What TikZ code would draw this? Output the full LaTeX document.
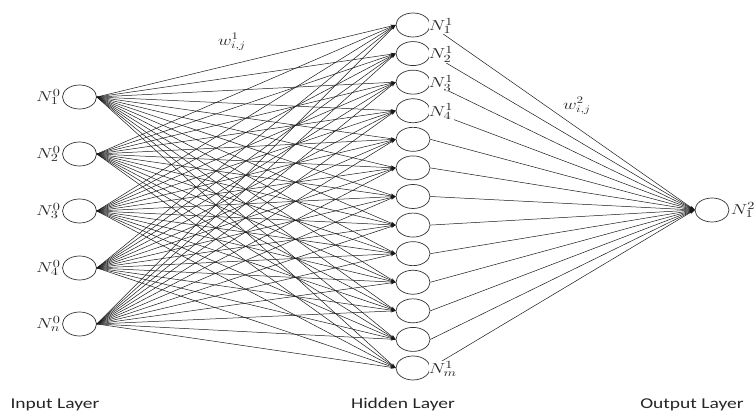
\documentclass[tikz,border=0pt]{standalone}
\usepackage{fontspec}
\newfontfamily\layerfont{Carlito}
\usetikzlibrary{arrows.meta,shapes.geometric}
\newcommand{\wide}[1]{\scalebox{1.3}[1]{#1}}
\begin{document}
\begin{tikzpicture}[x=1pt,y=1pt,
  neuron/.style={draw=black!80, ellipse, minimum width=34pt, minimum height=24pt, inner sep=0pt, line width=0.7pt},
  conn/.style={line width=0.5pt, draw=black!90, -{Stealth[length=5pt,width=3pt]}},
  nlab/.style={font=\fontsize{15}{15}\selectfont, inner sep=0.3pt, text=black!85},
  wlab/.style={font=\fontsize{14}{14}\selectfont, inner sep=0.5pt, text=black!85},
  laylab/.style={font=\layerfont\fontsize{15}{15}\selectfont, text=black!85, inner sep=0pt}]
\useasboundingbox (0,0) rectangle (756,412);
% input layer
\foreach \i/\y in {1/97,2/154,3/211,4/268,5/324}
  \node[neuron] (in\i) at (79.5,412-\y) {};
% hidden layer
\foreach \k in {1,...,13}
  \node[neuron] (h\k) at (413,{412-25-(\k-1)*28.583}) {};
% output layer
\node[neuron] (out) at (712,202) {};
% connections
\foreach \i in {1,...,5}
  \foreach \k in {1,...,13}
    \draw[conn] (in\i.east) -- (h\k.west);
\foreach \k in {1,...,13}
  \draw[conn] (h\k.east) -- (out.west);
% input labels
\node[nlab, anchor=east] (l1) at ([xshift=-1pt]in1.west) {\wide{$N_1^0$}};
\node[nlab, anchor=east] (l2) at ([xshift=-1pt]in2.west) {\wide{$N_2^0$}};
\node[nlab, anchor=east] (l3) at ([xshift=-1pt]in3.west) {\wide{$N_3^0$}};
\node[nlab, anchor=east] (l4) at ([xshift=-1pt]in4.west) {\wide{$N_4^0$}};
\node[nlab, anchor=east] (l5) at ([xshift=-1pt]in5.west) {\wide{$N_n^0$}};
% hidden labels
\node[nlab, anchor=west, fill=white] (m1) at ([xshift=-2pt,yshift=-1pt]h1.east) {\wide{$N_1^1$}};
\node[nlab, anchor=west, fill=white] (m2) at ([xshift=-2pt,yshift=-1pt]h2.east) {\wide{$N_2^1$}};
\node[nlab, anchor=west, fill=white] (m3) at ([xshift=-2pt,yshift=-1pt]h3.east) {\wide{$N_3^1$}};
\node[nlab, anchor=west, fill=white] (m4) at ([xshift=-2pt,yshift=-1pt]h4.east) {\wide{$N_4^1$}};
\node[nlab, anchor=west, fill=white] (m13) at ([xshift=-2pt,yshift=-1pt]h13.east) {\wide{$N_m^1$}};
% output label
\node[nlab, anchor=west] (o1) at ([xshift=1pt]out.east) {\wide{$N_1^2$}};
% weight labels
\node[wlab] (w1) at (232,370) {\wide{$w_{i,j}^1$}};
\node[wlab] (w2) at (577,306) {\wide{$w_{i,j}^2$}};
% layer labels
\node[laylab] (t1) at (55,7) {\wide{Input Layer}};
\node[laylab] (t2) at (403,7) {\wide{Hidden Layer}};
\node[laylab] (t3) at (692,7) {\wide{Output Layer}};
\end{tikzpicture}
\end{document}
